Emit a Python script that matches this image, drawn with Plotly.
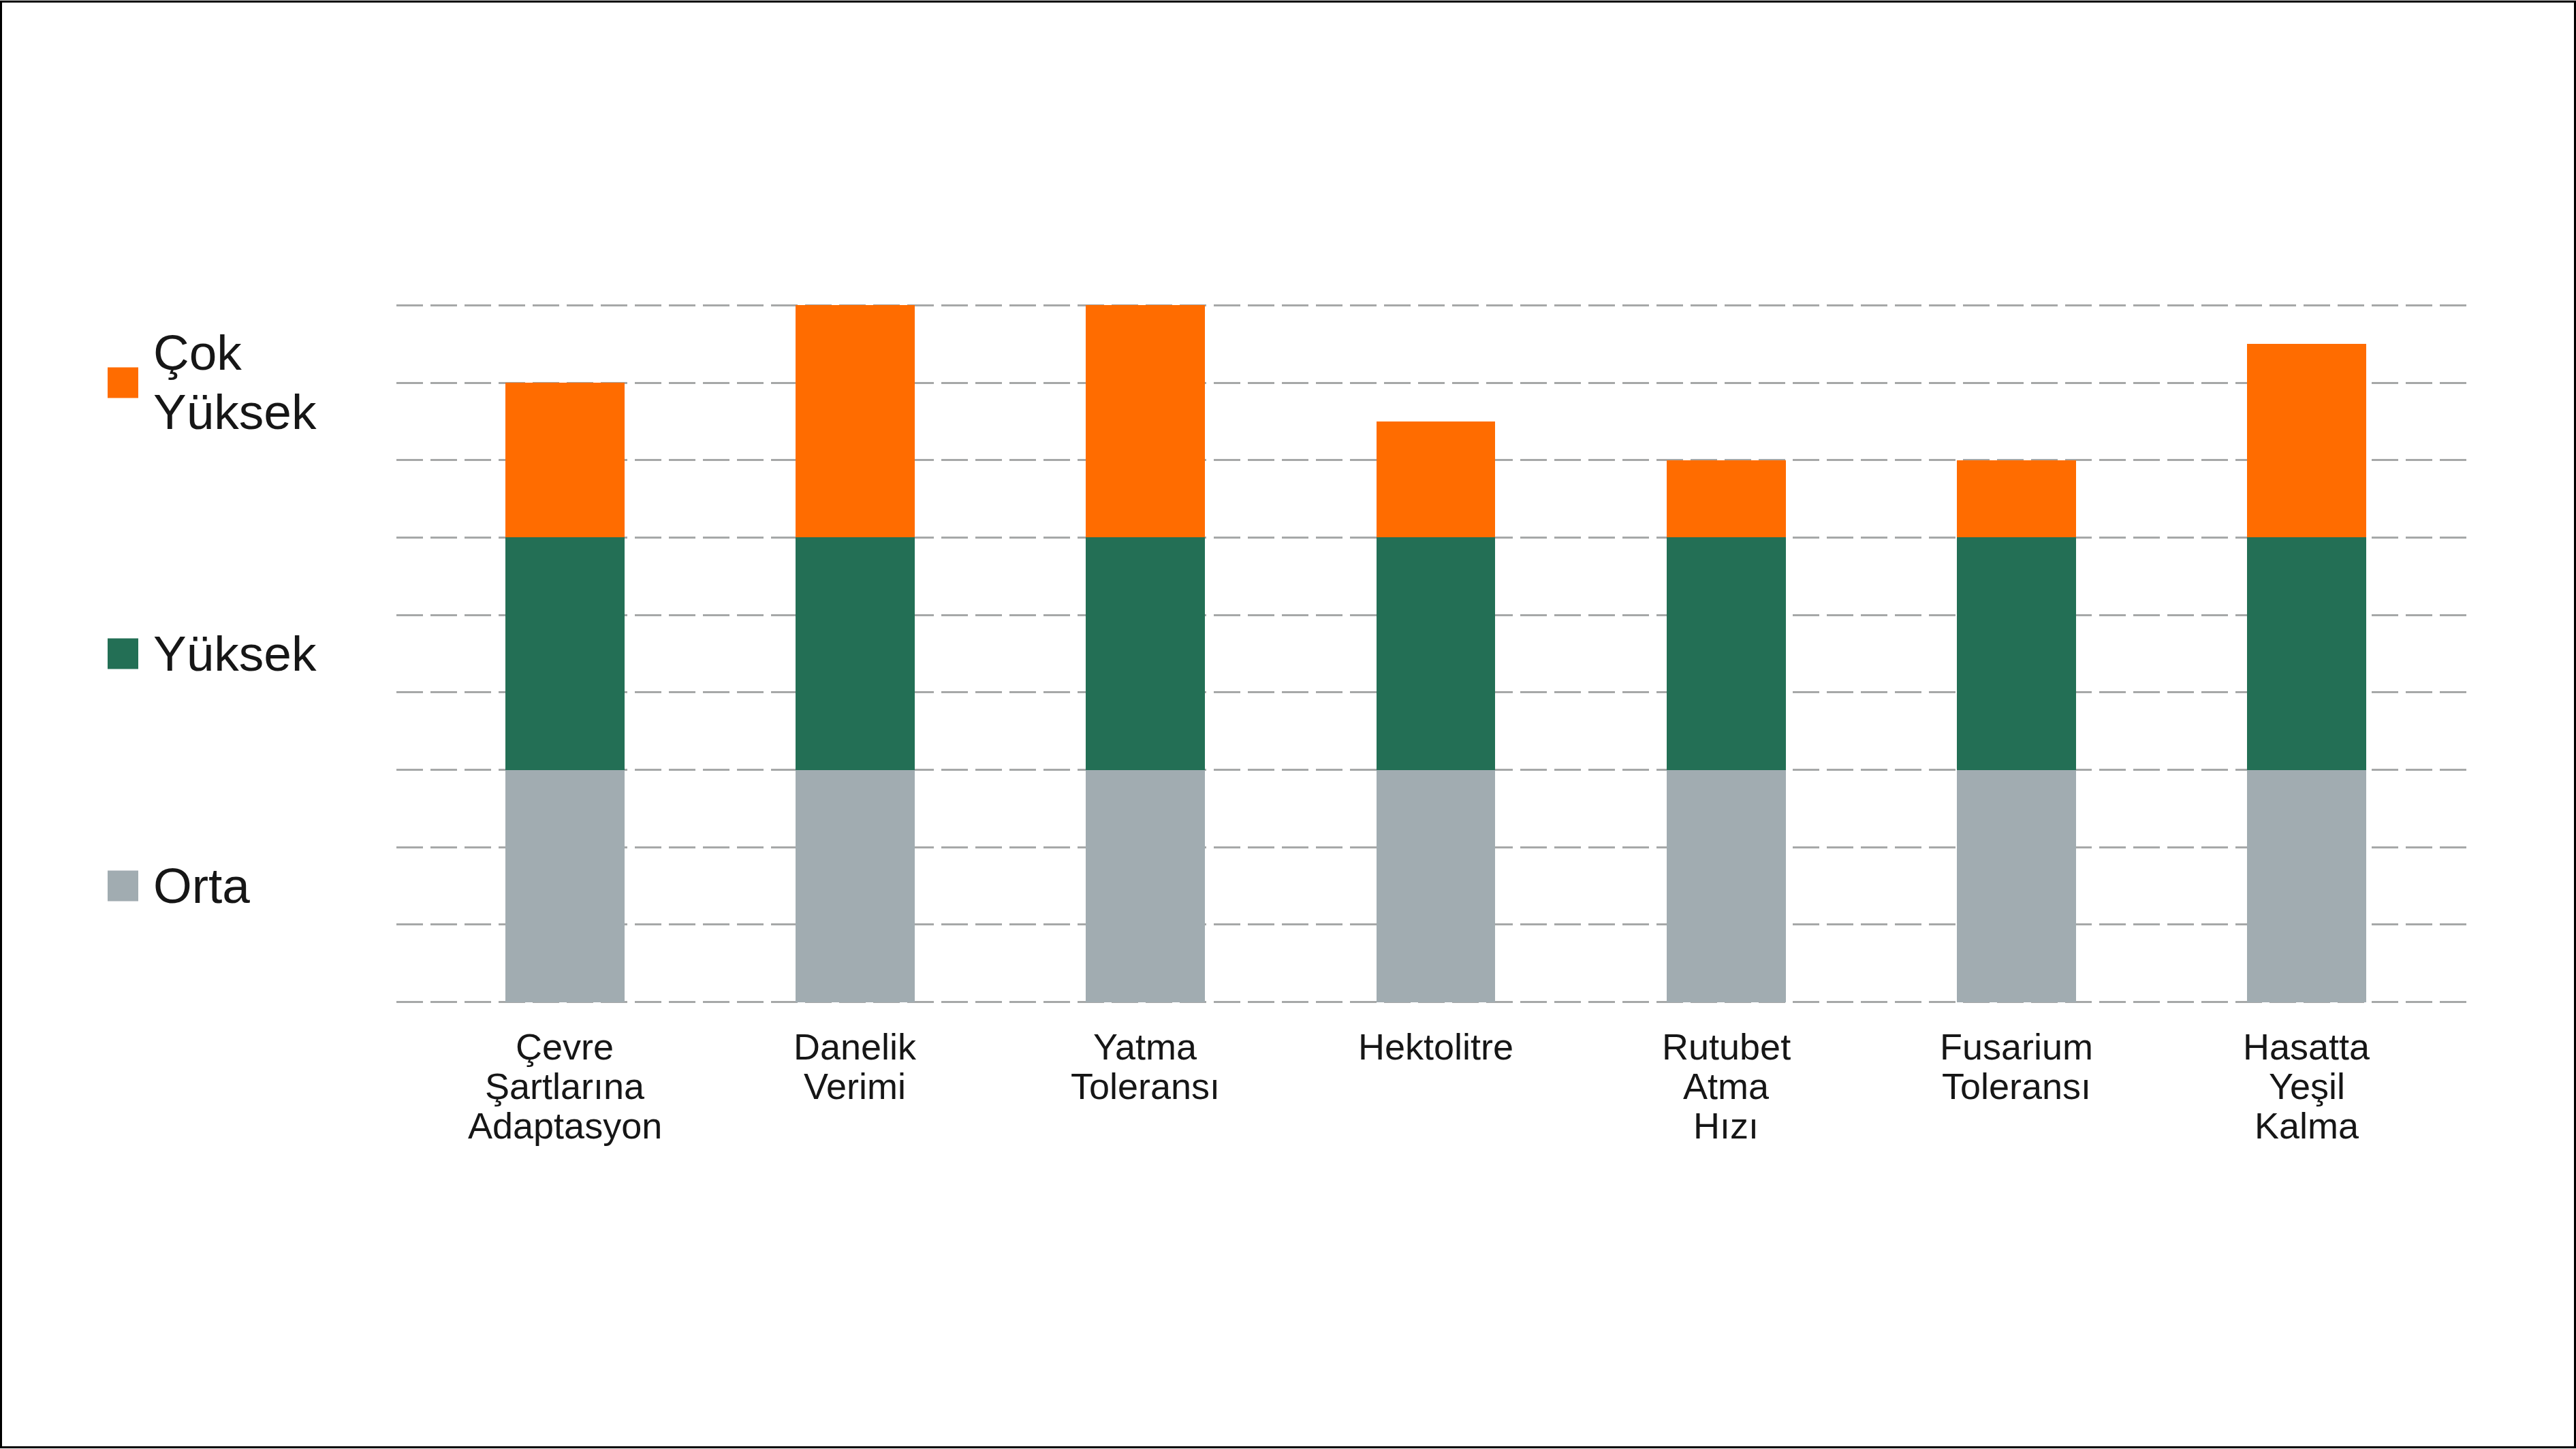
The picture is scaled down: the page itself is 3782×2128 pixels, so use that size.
import plotly.graph_objects as go

# ---- data ----
categories = ["Çevre Şartlarına Adaptasyon", "Danelik Verimi", "Yatma Toleransı",
              "Hektolitre", "Rutubet Atma Hızı", "Fusarium Toleransı", "Hasatta Yeşil Kalma"]
category_lines = [["Çevre", "Şartlarına", "Adaptasyon"], ["Danelik", "Verimi"],
                  ["Yatma", "Toleransı"], ["Hektolitre"], ["Rutubet", "Atma", "Hızı"],
                  ["Fusarium", "Toleransı"], ["Hasatta", "Yeşil", "Kalma"]]
orta = [3, 3, 3, 3, 3, 3, 3]
yuksek = [3, 3, 3, 3, 3, 3, 3]
cok_yuksek = [2, 3, 3, 1.5, 1, 1, 2.5]
series_names = ["Orta", "Yüksek", "Çok Yüksek"]
legend_positions = [1.5, 4.5, 8]          # y value where each legend entry sits
legend_lines = [["Orta"], ["Yüksek"], ["Çok", "Yüksek"]]
y_min, y_max = 0, 9

# ---- style ----
W, H = 3782, 2128
unit = 113.7                 # pixels per y unit
E = 0.03                     # small padding so edge gridlines are drawn
ML, MR = 582, 158
MT = 448 - E * unit
MB = 656 - E * unit
PW, PH = W - ML - MR, H - MT - MB
colors = ["#A1ACB1", "#236F55", "#FF6C00"]
FONT = "Liberation Sans"
TXT = "#161616"

fig = go.Figure()
for name, vals, col in zip(series_names, [orta, yuksek, cok_yuksek], colors):
    fig.add_trace(go.Bar(x=categories, y=vals, name=name, marker=dict(color=col, line=dict(width=0)),
                         width=0.41, showlegend=False))

annotations = []
# category labels, one annotation per line
for cat, lines in zip(categories, category_lines):
    for i, ln in enumerate(lines):
        annotations.append(dict(x=cat, y=0, xref="x", yref="y", text=ln, showarrow=False,
                                xanchor="center", yanchor="middle", yshift=-(65 + 58 * i),
                                font=dict(family=FONT, size=54, color=TXT)))

def px_x(p):
    return (p - ML) / PW

def px_y(p):
    return (H - MB - p) / PH

shapes = []
for name, yc, lines, col in zip(series_names, legend_positions, legend_lines, colors):
    half = 22.5 / unit
    shapes.append(dict(type="rect", xref="paper", yref="y", x0=px_x(158), x1=px_x(203),
                       y0=yc - half, y1=yc + half, fillcolor=col, line=dict(width=0), layer="above"))
    n = len(lines)
    for i, ln in enumerate(lines):
        off = ((n - 1) / 2 - i) * 87
        annotations.append(dict(x=px_x(223), y=yc, xref="paper", yref="y", text=ln, showarrow=False,
                                xanchor="left", yanchor="middle", yshift=off + 1,
                                font=dict(family=FONT, size=73, color=TXT)))

# outer frame
shapes.append(dict(type="rect", xref="paper", yref="paper", x0=px_x(1.5), x1=px_x(W - 1.5),
                   y0=px_y(H - 1.5), y1=px_y(1.5), line=dict(color="#000000", width=3), layer="above"))

fig.update_layout(
    width=W, height=H, barmode="stack",
    margin=dict(l=ML, r=MR, t=MT, b=MB, pad=0),
    paper_bgcolor="white", plot_bgcolor="white",
    font=dict(family=FONT, color=TXT),
    annotations=annotations, shapes=shapes,
    xaxis=dict(range=[-0.58, 6.557], showticklabels=False, showgrid=False, zeroline=False,
               showline=False, ticks=""),
    yaxis=dict(range=[y_min - E, y_max + E], dtick=1, tick0=0, showticklabels=False, showgrid=True,
               gridcolor="#A6A8A8", gridwidth=3, griddash="39px,11px", zeroline=False,
               showline=False, ticks=""),
)

fig.write_html("out.html", config={"displayModeBar": False},
               post_script="document.body.style.margin='0';document.body.style.overflow='hidden';")
